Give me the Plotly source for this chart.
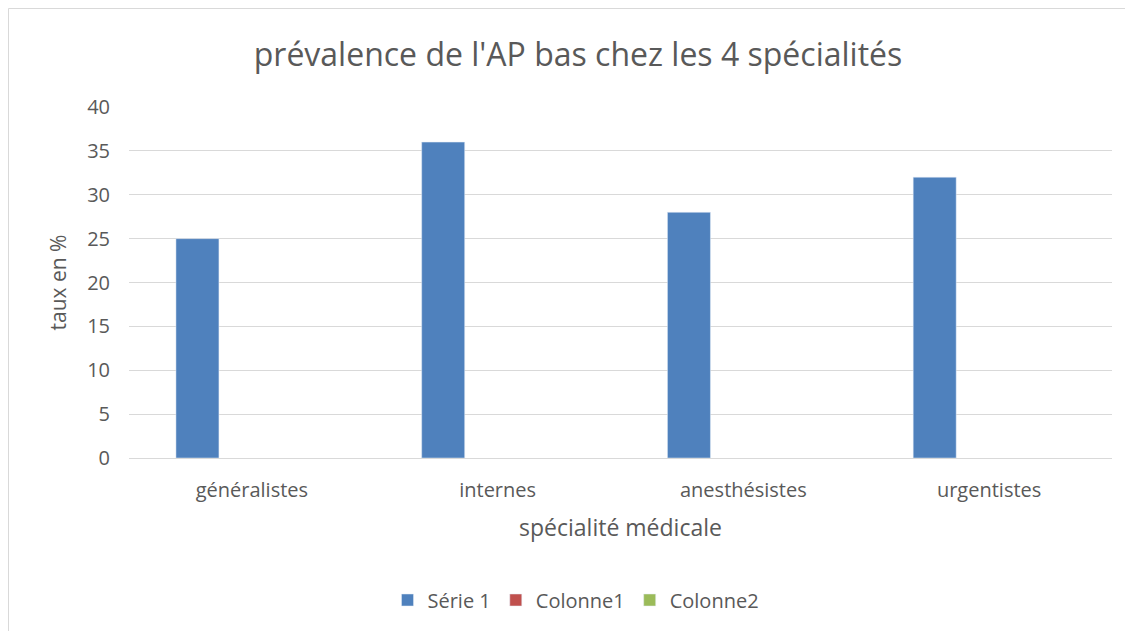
import plotly.graph_objects as go

categories = ["généralistes", "internes", "anesthésistes", "urgentistes"]
serie1 = [25, 36, 28, 32]
colonne1 = [None, None, None, None]
colonne2 = [None, None, None, None]
y_ticks = [0, 5, 10, 15, 20, 25, 30, 35, 40]

OFF = 8  # page body margin
W, H = 1133 - OFF, 631 - OFF
L, R, T, B = 129 - OFF, 21, 107 - OFF, 173
pw = W - L - R
ph = H - T - B

fig = go.Figure()
fig.add_trace(go.Bar(x=categories, y=serie1, name="Série 1", marker_color="#4F81BD",
                     width=0.175, offset=-0.309))
fig.add_trace(go.Bar(x=categories, y=colonne1, name="Colonne1", marker_color="#C0504D",
                     width=0.175, offset=-0.134))
fig.add_trace(go.Bar(x=categories, y=colonne2, name="Colonne2", marker_color="#9BBB59",
                     width=0.175, offset=0.041))

font = "Open Sans, Liberation Sans, sans-serif"
grey = "#595959"

bx0 = (0.5 - L) / pw
bx1 = (W - L) / pw
by0 = ((H - B) - H) / ph
by1 = ((H - B) - 0.5) / ph

fig.update_layout(
    width=W, height=H,
    margin=dict(l=L, r=R, t=T, b=B, autoexpand=False),
    paper_bgcolor="white", plot_bgcolor="white",
    font=dict(family=font, color=grey, size=20),
    title=dict(text="prévalence de l'AP bas chez les 4 spécialités",
               x=(578 - OFF) / W, xanchor="center", y=1 - (55 - OFF) / H, yanchor="middle",
               font=dict(size=32, color=grey, family=font)),
    barmode="group",
    showlegend=True,
    legend=dict(orientation="h", x=(576 - 129) / pw, xanchor="center",
                y=((H - B) - (600 - OFF)) / ph, yanchor="middle",
                font=dict(size=20, color=grey), itemwidth=30, traceorder="normal"),
    xaxis=dict(title=dict(text="spécialité médicale", font=dict(size=23, color=grey), standoff=17),
               showgrid=False, showline=True, linecolor="#D9D9D9", linewidth=1,
               ticks="", tickfont=dict(size=20, color=grey), ticklabelstandoff=14),
    yaxis=dict(title=dict(text="taux en %", font=dict(size=21, color=grey), standoff=14),
               range=[0, 40], tickvals=y_ticks, showgrid=True, gridcolor="#D9D9D9", gridwidth=1,
               zeroline=False, showline=False, ticks="", tickfont=dict(size=20, color=grey),
               ticklabelstandoff=18),
    shapes=[
        dict(type="line", xref="paper", yref="paper", x0=bx0, x1=bx0, y0=by0, y1=by1,
             line=dict(color="#D9D9D9", width=1)),
        dict(type="line", xref="paper", yref="paper", x0=bx0, x1=bx1, y0=by1, y1=by1,
             line=dict(color="#D9D9D9", width=1)),
    ],
)

fig.write_html("out.html")
